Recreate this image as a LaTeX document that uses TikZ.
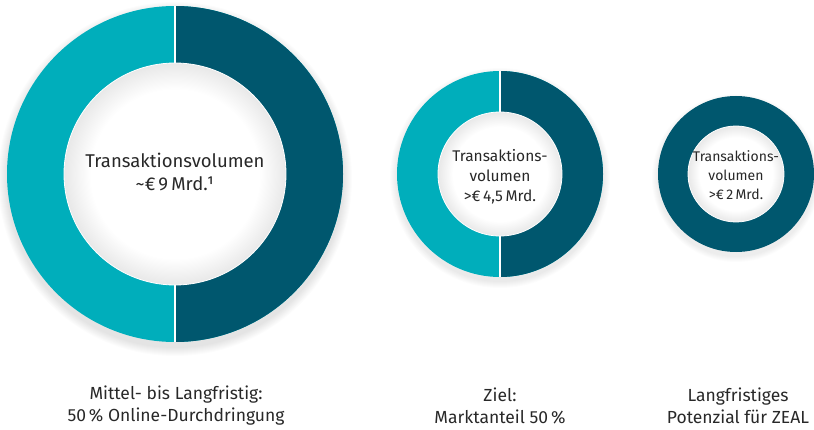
\documentclass[tikz,border=0pt]{standalone}
\usepackage{fontspec}
\setmainfont{Fira Sans}
\usepackage{tikz}
\usetikzlibrary{positioning,calc}
\usepackage{xcolor}
\definecolor{zeallight}{RGB}{0,174,187}
\definecolor{zealdark}{RGB}{0,87,110}
\definecolor{textgray}{RGB}{40,40,40}
\pgfdeclareradialshading{innerglow}{\pgfpoint{0bp}{0bp}}{color(0bp)=(white); color(19bp)=(white); color(25bp)=(black!9); color(50bp)=(black!9)}

\begin{document}
\begin{tikzpicture}[
    x=1pt, y=1pt,
    ringshadow/.style={fill=black, opacity=0.012},
    hole/.style={shading=innerglow, draw=white, line width=0.8pt},
    splitline/.style={draw=white, line width=1.2pt},
    centertext/.style={text=textgray, align=center, inner sep=0pt},
    captiontext/.style={text=textgray, align=center, inner sep=0pt, font=\fontsize{17.5}{22}\selectfont}
]
\useasboundingbox (0,0) rectangle (814,429);
\clip (0,0) rectangle (814,429);

% large donut: online share
\foreach \i in {1,...,9} \fill[ringshadow] (175,250) circle (168+\i);
\fill[zeallight] (175,255) circle (168);
\fill[zealdark] (175,423) arc[start angle=90, end angle=-90, radius=168] -- cycle;
\draw[splitline] (175,423) -- (175,87);
\shade[hole] (175,255) circle (111);
\node[centertext, font=\fontsize{18.5}{23}\selectfont] (bigvol) at (175,257) {Transaktionsvolumen\\\textasciitilde€\,9\,Mrd.¹};

% middle donut: market share
\foreach \i in {1,...,7} \fill[ringshadow] (500,251) circle (103+\i);
\fill[zeallight] (500,255) circle (103);
\fill[zealdark] (500,358) arc[start angle=90, end angle=-90, radius=103] -- cycle;
\draw[splitline] (500,358) -- (500,152);
\shade[hole] (500,255) circle (62);
\node[centertext, font=\fontsize{15.5}{20}\selectfont] (midvol) at (500,252) {Transaktions-\\volumen\\>€\,4,5\,Mrd.};

% small donut: ZEAL
\foreach \i in {1,...,6} \fill[ringshadow] (736,251) circle (78+\i);
\fill[zealdark] (736,255) circle (78);
\shade[hole] (736,255) circle (48);
\node[centertext, font=\fontsize{14}{19}\selectfont] (smallvol) at (736,254) {Transaktions-\\volumen\\>€\,2\,Mrd.};

% captions
\node[captiontext] (bigcap) at (176,23) {Mittel- bis Langfristig:\\50\,\% Online-Durchdringung};
\node[captiontext] (midcap) at (500,23) {Ziel:\\Marktanteil 50\,\%};
\node[captiontext] (smallcap) at (738,23) {Langfristiges\\Potenzial für ZEAL};
\end{tikzpicture}
\end{document}
